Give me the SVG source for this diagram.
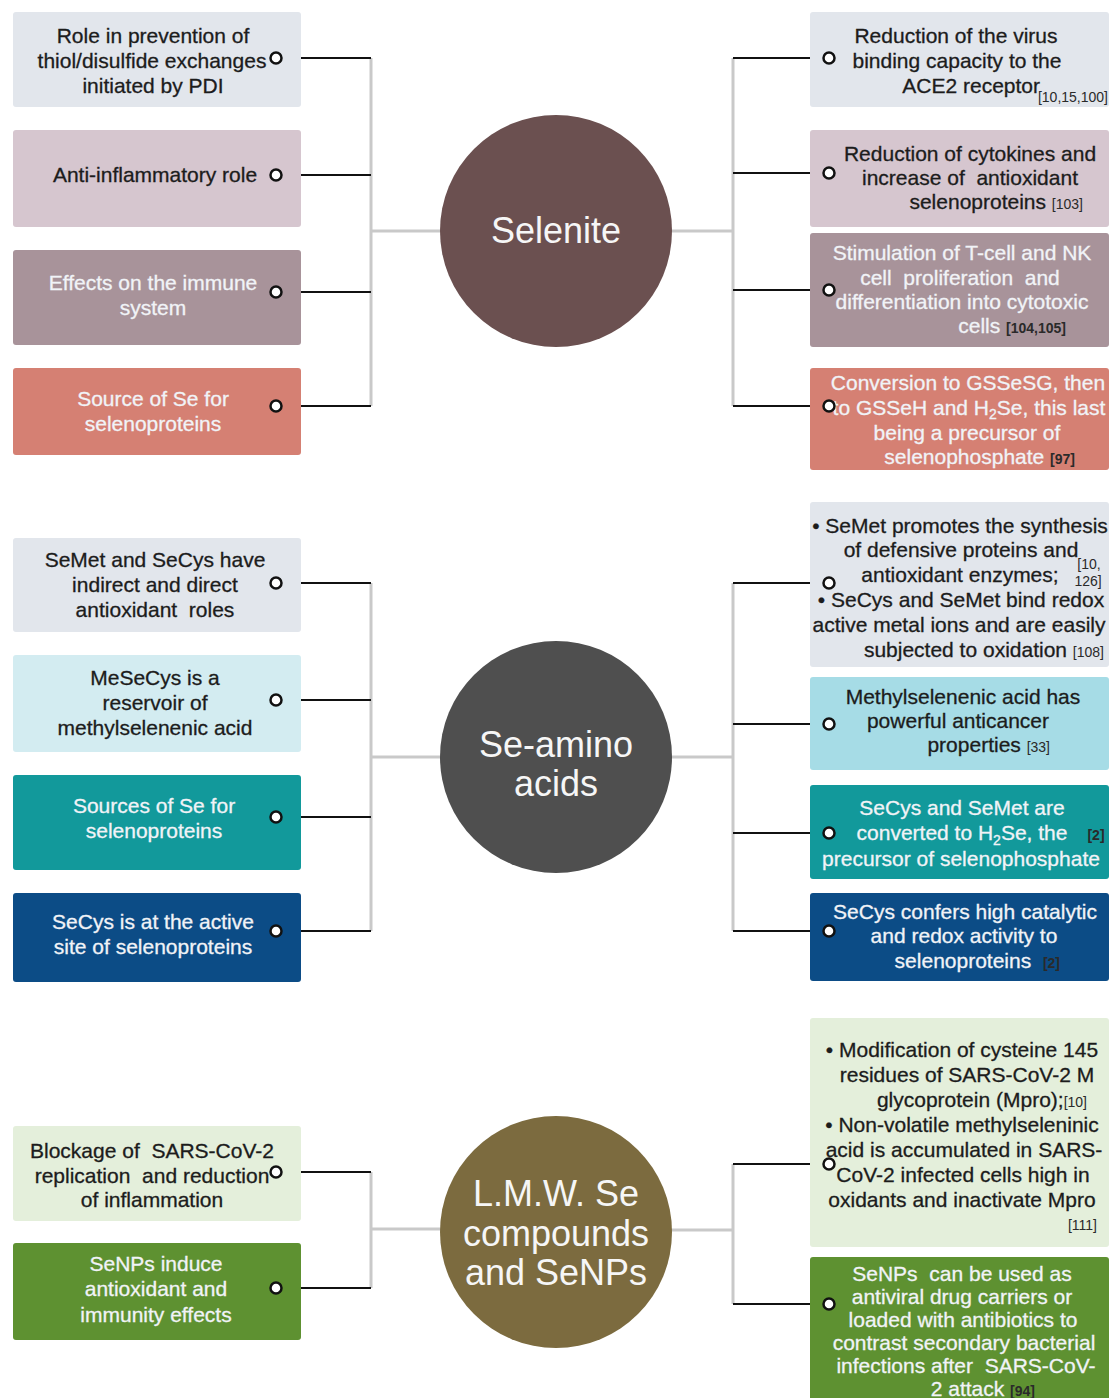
<svg xmlns="http://www.w3.org/2000/svg" width="1110" height="1398" viewBox="0 0 1110 1398">
<style>
text{font-family:"Liberation Sans",Arial,sans-serif;font-size:21px;text-anchor:middle;white-space:pre}
.dk{fill:#1c1c1c;stroke:#1c1c1c;stroke-width:0.3}
.lt{fill:#f1f3f7;stroke:#f1f3f7;stroke-width:0.3}
.ref{font-size:14px;fill:#2a2a2a;stroke:none}
.rs{font-size:14px}
.big{font-size:36px;fill:#f6f6f6}
.e{text-anchor:end}
.gl{stroke:#c9c9c9;stroke-width:3;fill:none}
.bl{stroke:#111;stroke-width:2;fill:none}
.dot{fill:#fff;stroke:#111;stroke-width:2.5}
.c1{fill:#e2e6ec}.c2{fill:#d6c6cf}.c3{fill:#a8939a}.c4{fill:#d58073}
.c5{fill:#d3ecf1}.c6{fill:#a6dce6}.c7{fill:#12999b}.c8{fill:#0c4c86}
.c9{fill:#e4efdb}.c10{fill:#5e9131}
</style>
<rect width="1110" height="1398" fill="#ffffff"/>

<g id="connectors">
  <!-- Selenite -->
  <path class="gl" d="M371 58V406M371 231H442M733 58V406M670 231H733"/>
  <path class="bl" d="M281 58H371M281 175H371M281 292H371M281 406H371"/>
  <path class="bl" d="M733 58H824M733 173H824M733 290H824M733 406H824"/>
  <!-- Se-amino acids -->
  <path class="gl" d="M371 583V931M371 757H442M733 583V931M670 757H733"/>
  <path class="bl" d="M281 583H371M281 700H371M281 817H371M281 931H371"/>
  <path class="bl" d="M733 583H824M733 724H824M733 833H824M733 931H824"/>
  <!-- LMW -->
  <path class="gl" d="M371 1172V1288M371 1229H442M733 1164V1304M670 1230H733"/>
  <path class="bl" d="M281 1172H371M281 1288H371"/>
  <path class="bl" d="M733 1164H824M733 1304H824"/>
</g>

<g id="selenite">
  <circle cx="556" cy="231" r="116" fill="#6b5050"/>
  <text class="big" x="556" y="243">Selenite</text>
</g>
<g id="se-amino-acids">
  <circle cx="556" cy="757" r="116" fill="#4f4f4f"/>
  <text class="big" x="556" y="757">Se-amino</text>
  <text class="big" x="556" y="796">acids</text>
</g>
<g id="lmw-se">
  <circle cx="556" cy="1232" r="116" fill="#7c6b3f"/>
  <text class="big" x="556" y="1206">L.M.W. Se</text>
  <text class="big" x="556" y="1246">compounds</text>
  <text class="big" x="556" y="1285">and SeNPs</text>
</g>

<!-- Selenite left -->
<g id="sl1">
  <rect class="c1" x="13" y="12" width="288" height="95" rx="3"/>
  <text class="dk" x="153" y="43">Role in prevention of</text>
  <text class="dk" x="152" y="68">thiol/disulfide exchanges</text>
  <text class="dk" x="153" y="93">initiated by PDI</text>
  <circle class="dot" cx="276" cy="58" r="5.5"/>
</g>
<g id="sl2">
  <rect class="c2" x="13" y="130" width="288" height="97" rx="3"/>
  <text class="dk" x="155" y="182">Anti-inflammatory role</text>
  <circle class="dot" cx="276" cy="175" r="5.5"/>
</g>
<g id="sl3">
  <rect class="c3" x="13" y="250" width="288" height="95" rx="3"/>
  <text class="lt" x="153" y="290">Effects on the immune</text>
  <text class="lt" x="153" y="315">system</text>
  <circle class="dot" cx="276" cy="292" r="5.5"/>
</g>
<g id="sl4">
  <rect class="c4" x="13" y="368" width="288" height="87" rx="3"/>
  <text class="lt" x="153" y="406">Source of Se for</text>
  <text class="lt" x="153" y="431">selenoproteins</text>
  <circle class="dot" cx="276" cy="406" r="5.5"/>
</g>

<!-- Selenite right -->
<g id="sr1">
  <rect class="c1" x="810" y="12" width="299" height="95" rx="3"/>
  <text class="dk" x="956" y="43">Reduction of the virus</text>
  <text class="dk" x="957" y="68">binding capacity to the</text>
  <text class="dk e" x="1040" y="93">ACE2 receptor</text>
  <text class="ref e" x="1108" y="102">[10,15,100]</text>
  <circle class="dot" cx="829" cy="58" r="5.5"/>
</g>
<g id="sr2">
  <rect class="c2" x="810" y="130" width="299" height="97" rx="3"/>
  <text class="dk" x="970" y="161">Reduction of cytokines and</text>
  <text class="dk" x="970" y="185">increase of  antioxidant</text>
  <text class="dk e" x="1083" y="209">selenoproteins <tspan class="ref">[103]</tspan></text>
  <circle class="dot" cx="829" cy="173" r="5.5"/>
</g>
<g id="sr3">
  <rect class="c3" x="810" y="233" width="299" height="114" rx="3"/>
  <text class="lt" x="962" y="260">Stimulation of T-cell and NK</text>
  <text class="lt" x="960" y="285">cell  proliferation  and</text>
  <text class="lt" x="962" y="309">differentiation into cytotoxic</text>
  <text class="lt e" x="1066" y="333">cells <tspan class="ref" fill="#1a1a1a" font-weight="bold">[104,105]</tspan></text>
  <circle class="dot" cx="829" cy="290" r="5.5"/>
</g>
<g id="sr4">
  <rect class="c4" x="810" y="368" width="299" height="102" rx="3"/>
  <text class="lt" x="968" y="390">Conversion to GSSeSG, then</text>
  <text class="lt" x="969" y="415">to GSSeH and H<tspan class="rs" dy="4">2</tspan><tspan dy="-4">Se, this last</tspan></text>
  <text class="lt" x="967" y="440">being a precursor of</text>
  <text class="lt e" x="1075" y="464">selenophosphate <tspan class="ref" fill="#1a1a1a" font-weight="bold">[97]</tspan></text>
  <circle class="dot" cx="829" cy="406" r="5.5"/>
</g>

<!-- Se-amino left -->
<g id="al1">
  <rect class="c1" x="13" y="538" width="288" height="94" rx="3"/>
  <text class="dk" x="155" y="567">SeMet and SeCys have</text>
  <text class="dk" x="155" y="592">indirect and direct</text>
  <text class="dk" x="155" y="617">antioxidant  roles</text>
  <circle class="dot" cx="276" cy="583" r="5.5"/>
</g>
<g id="al2">
  <rect class="c5" x="13" y="655" width="288" height="97" rx="3"/>
  <text class="dk" x="155" y="685">MeSeCys is a</text>
  <text class="dk" x="155" y="710">reservoir of</text>
  <text class="dk" x="155" y="735">methylselenenic acid</text>
  <circle class="dot" cx="276" cy="700" r="5.5"/>
</g>
<g id="al3">
  <rect class="c7" x="13" y="775" width="288" height="95" rx="3"/>
  <text class="lt" x="154" y="813">Sources of Se for</text>
  <text class="lt" x="154" y="838">selenoproteins</text>
  <circle class="dot" cx="276" cy="817" r="5.5"/>
</g>
<g id="al4">
  <rect class="c8" x="13" y="893" width="288" height="89" rx="3"/>
  <text class="lt" x="153" y="929">SeCys is at the active</text>
  <text class="lt" x="153" y="954">site of selenoproteins</text>
  <circle class="dot" cx="276" cy="931" r="5.5"/>
</g>

<!-- Se-amino right -->
<g id="ar1">
  <rect class="c1" x="810" y="502" width="299" height="165" rx="3"/>
  <text class="dk" x="960" y="533">• SeMet promotes the synthesis</text>
  <text class="dk" x="961" y="557">of defensive proteins and</text>
  <text class="dk" x="960" y="582">antioxidant enzymes;</text>
  <text class="ref" x="1089" y="569">[10,</text>
  <text class="ref" x="1088" y="586">126]</text>
  <text class="dk" x="961" y="607">• SeCys and SeMet bind redox</text>
  <text class="dk" x="959" y="632">active metal ions and are easily</text>
  <text class="dk e" x="1104" y="657">subjected to oxidation <tspan class="ref">[108]</tspan></text>
  <circle class="dot" cx="829" cy="583" r="5.5"/>
</g>
<g id="ar2">
  <rect class="c6" x="810" y="677" width="299" height="93" rx="3"/>
  <text class="dk" x="963" y="704">Methylselenenic acid has</text>
  <text class="dk" x="958" y="728">powerful anticancer</text>
  <text class="dk e" x="1050" y="752">properties <tspan class="ref">[33]</tspan></text>
  <circle class="dot" cx="829" cy="724" r="5.5"/>
</g>
<g id="ar3">
  <rect class="c7" x="810" y="785" width="299" height="94" rx="3"/>
  <text class="lt" x="962" y="815">SeCys and SeMet are</text>
  <text class="lt" x="962" y="840">converted to H<tspan class="rs" dy="5">2</tspan><tspan dy="-5">Se, the</tspan></text>
  <text class="ref" x="1096" y="840" fill="#1a1a1a" font-weight="bold">[2]</text>
  <text class="lt" x="961" y="866">precursor of selenophosphate</text>
  <circle class="dot" cx="829" cy="833" r="5.5"/>
</g>
<g id="ar4">
  <rect class="c8" x="810" y="893" width="299" height="88" rx="3"/>
  <text class="lt" x="965" y="919">SeCys confers high catalytic</text>
  <text class="lt" x="964" y="943">and redox activity to</text>
  <text class="lt e" x="1060" y="968">selenoproteins  <tspan class="ref" fill="#0a0a0a" font-weight="bold">[2]</tspan></text>
  <circle class="dot" cx="829" cy="931" r="5.5"/>
</g>

<!-- LMW left -->
<g id="ll1">
  <rect class="c9" x="13" y="1126" width="288" height="95" rx="3"/>
  <text class="dk" x="152" y="1158">Blockage of  SARS-CoV-2</text>
  <text class="dk" x="152" y="1183">replication  and reduction</text>
  <text class="dk" x="152" y="1207">of inflammation</text>
  <circle class="dot" cx="276" cy="1172" r="5.5"/>
</g>
<g id="ll2">
  <rect class="c10" x="13" y="1243" width="288" height="97" rx="3"/>
  <text class="lt" x="156" y="1271">SeNPs induce</text>
  <text class="lt" x="156" y="1296">antioxidant and</text>
  <text class="lt" x="156" y="1322">immunity effects</text>
  <circle class="dot" cx="276" cy="1288" r="5.5"/>
</g>

<!-- LMW right -->
<g id="lr1">
  <rect class="c9" x="810" y="1018" width="299" height="229" rx="3"/>
  <text class="dk" x="962" y="1057">• Modification of cysteine 145</text>
  <text class="dk" x="967" y="1082">residues of SARS-CoV-2 M</text>
  <text class="dk e" x="1087" y="1107">glycoprotein (Mpro);<tspan class="ref">[10]</tspan></text>
  <text class="dk" x="962" y="1132">• Non-volatile methylseleninic</text>
  <text class="dk" x="964" y="1157">acid is accumulated in SARS-</text>
  <text class="dk" x="963" y="1182">CoV-2 infected cells high in</text>
  <text class="dk" x="962" y="1207">oxidants and inactivate Mpro</text>
  <text class="ref e" x="1097" y="1230">[111]</text>
  <circle class="dot" cx="829" cy="1164" r="5.5"/>
</g>
<g id="lr2">
  <rect class="c10" x="810" y="1257" width="299" height="150" rx="3"/>
  <text class="lt" x="962" y="1281">SeNPs  can be used as</text>
  <text class="lt" x="962" y="1304">antiviral drug carriers or</text>
  <text class="lt" x="963" y="1327">loaded with antibiotics to</text>
  <text class="lt" x="964" y="1350">contrast secondary bacterial</text>
  <text class="lt" x="966" y="1373">infections after  SARS-CoV-</text>
  <text class="lt e" x="1035" y="1396">2 attack <tspan class="ref" fill="#1a1a1a" font-weight="bold">[94]</tspan></text>
  <circle class="dot" cx="829" cy="1304" r="5.5"/>
</g>
</svg>
